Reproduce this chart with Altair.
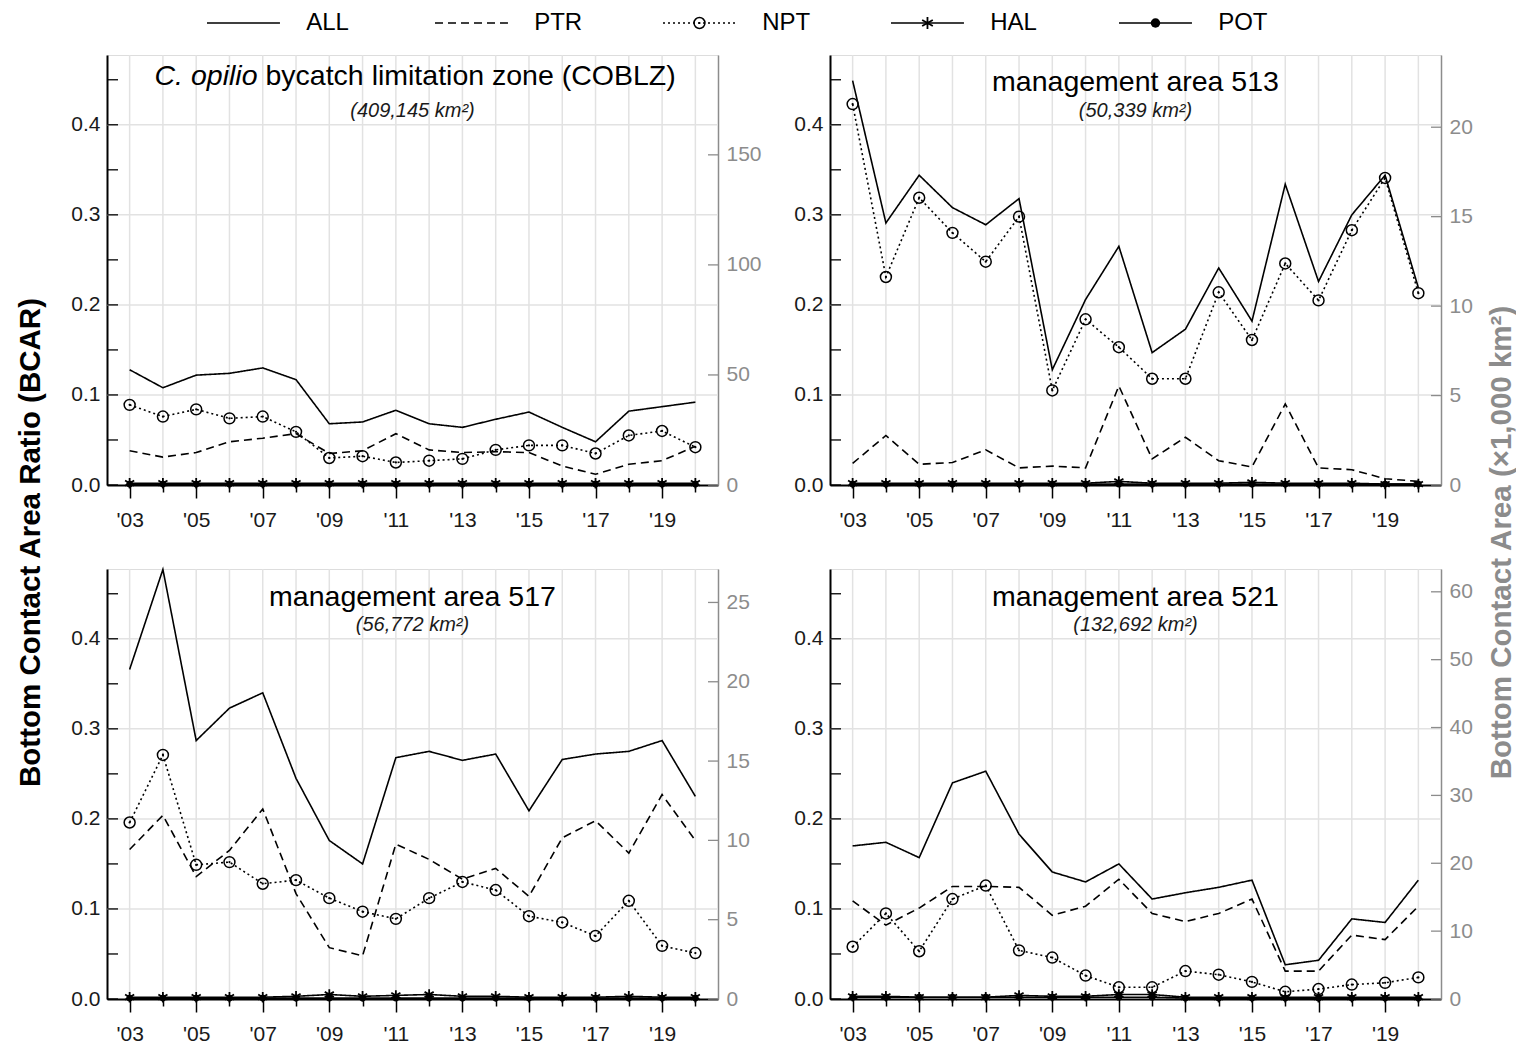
import altair as alt
import pandas as pd

YEARS = list(range(2003, 2021))
SERIES = ["ALL", "PTR", "NPT", "HAL", "POT"]

# ---- C. opilio bycatch limitation zone (COBLZ) ----
coblz_all = [0.128, 0.108, 0.122, 0.124, 0.130, 0.117, 0.068, 0.070, 0.083, 0.068, 0.064, 0.073, 0.081, 0.064, 0.048, 0.082, 0.087, 0.092]
coblz_ptr = [0.038, 0.031, 0.036, 0.048, 0.052, 0.057, 0.035, 0.038, 0.057, 0.039, 0.036, 0.037, 0.036, 0.021, 0.012, 0.023, 0.027, 0.043]
coblz_npt = [0.089, 0.076, 0.084, 0.074, 0.076, 0.059, 0.030, 0.032, 0.025, 0.027, 0.029, 0.039, 0.044, 0.044, 0.035, 0.055, 0.060, 0.042]
coblz_hal = [0.002, 0.002, 0.002, 0.002, 0.002, 0.002, 0.002, 0.002, 0.002, 0.002, 0.002, 0.002, 0.002, 0.002, 0.002, 0.002, 0.002, 0.002]
coblz_pot = [0.001, 0.001, 0.001, 0.001, 0.001, 0.001, 0.001, 0.001, 0.001, 0.001, 0.001, 0.001, 0.001, 0.001, 0.001, 0.001, 0.001, 0.001]

# ---- management area 513 ----
m513_all = [0.449, 0.291, 0.344, 0.308, 0.289, 0.318, 0.128, 0.206, 0.265, 0.147, 0.173, 0.241, 0.182, 0.334, 0.226, 0.300, 0.344, 0.219]
m513_ptr = [0.024, 0.055, 0.023, 0.025, 0.039, 0.019, 0.021, 0.019, 0.110, 0.029, 0.053, 0.027, 0.020, 0.090, 0.019, 0.017, 0.007, 0.004]
m513_npt = [0.423, 0.231, 0.319, 0.280, 0.248, 0.298, 0.105, 0.184, 0.153, 0.118, 0.118, 0.214, 0.161, 0.246, 0.205, 0.283, 0.341, 0.213]
m513_hal = [0.002, 0.002, 0.002, 0.002, 0.002, 0.002, 0.002, 0.002, 0.004, 0.002, 0.002, 0.002, 0.003, 0.002, 0.002, 0.002, 0.001, 0.001]
m513_pot = [0.001, 0.001, 0.001, 0.001, 0.001, 0.001, 0.001, 0.001, 0.001, 0.001, 0.001, 0.001, 0.001, 0.001, 0.001, 0.001, 0.001, 0.001]

# ---- management area 517 ----
m517_all = [0.366, 0.477, 0.287, 0.323, 0.340, 0.245, 0.176, 0.150, 0.268, 0.275, 0.265, 0.272, 0.209, 0.266, 0.272, 0.275, 0.287, 0.225]
m517_ptr = [0.166, 0.204, 0.136, 0.165, 0.211, 0.117, 0.057, 0.048, 0.172, 0.155, 0.133, 0.145, 0.114, 0.179, 0.198, 0.162, 0.227, 0.176]
m517_npt = [0.196, 0.271, 0.149, 0.152, 0.128, 0.132, 0.112, 0.097, 0.089, 0.112, 0.130, 0.121, 0.092, 0.085, 0.070, 0.109, 0.059, 0.051]
m517_hal = [0.002, 0.002, 0.002, 0.002, 0.002, 0.003, 0.005, 0.003, 0.004, 0.005, 0.003, 0.003, 0.002, 0.002, 0.002, 0.003, 0.002, 0.002]
m517_pot = [0.001, 0.001, 0.001, 0.001, 0.001, 0.001, 0.001, 0.001, 0.001, 0.001, 0.001, 0.001, 0.001, 0.001, 0.001, 0.001, 0.001, 0.001]

# ---- management area 521 ----
m521_all = [0.170, 0.174, 0.157, 0.240, 0.253, 0.183, 0.141, 0.130, 0.150, 0.111, 0.118, 0.124, 0.132, 0.038, 0.043, 0.089, 0.085, 0.132]
m521_ptr = [0.109, 0.082, 0.101, 0.125, 0.125, 0.124, 0.093, 0.103, 0.133, 0.095, 0.086, 0.095, 0.111, 0.031, 0.031, 0.071, 0.066, 0.103]
m521_npt = [0.058, 0.095, 0.053, 0.111, 0.126, 0.054, 0.046, 0.026, 0.013, 0.013, 0.031, 0.027, 0.019, 0.008, 0.011, 0.016, 0.018, 0.024]
m521_hal = [0.003, 0.003, 0.002, 0.002, 0.002, 0.004, 0.003, 0.003, 0.005, 0.005, 0.002, 0.002, 0.002, 0.002, 0.002, 0.002, 0.002, 0.002]
m521_pot = [0.002, 0.002, 0.002, 0.002, 0.002, 0.002, 0.002, 0.002, 0.002, 0.002, 0.001, 0.001, 0.001, 0.001, 0.001, 0.001, 0.001, 0.001]

# panel areas (km^2) and right-axis tick labels (x1,000 km^2)
AREAS = [409145, 50339, 56772, 132692]
RTICKS = [[0, 50, 100, 150], [0, 5, 10, 15, 20], [0, 5, 10, 15, 20, 25], [0, 10, 20, 30, 40, 50, 60]]
LEFT_LABELS = [0.0, 0.1, 0.2, 0.3, 0.4]
LEFT_TICKS = [0.0, 0.05, 0.1, 0.15, 0.2, 0.25, 0.3, 0.35, 0.4, 0.45]

FONT = "Liberation Sans"
W, H = 611, 430
XDOM = [2002.32, 2020.68]
YMAX = 0.4775
GRAY = "#8c8c8c"
GRID = "#e2e2e2"
DASHES = [[1, 0], [8, 5], [2, 3], [1, 0], [1, 0]]
ASTERISK = "M0,-1L0,1M-0.87,-0.5L0.87,0.5M-0.87,0.5L0.87,-0.5"
TITLE_FS = 28.5

dash_scale = alt.Scale(domain=SERIES, range=DASHES)


def legend_layers():
    leg_df = pd.DataFrame({"series": SERIES, "i": [0, 1, 2, 3, 4]})
    # 228 px per legend entry, first entry starting 100 px right of the panel edge
    leg_scale = alt.Scale(domain=[-100 / 228, (W - 100) / 228], nice=False, zero=False)
    ly = alt.value(-32)
    b = alt.Chart(leg_df).transform_calculate(
        x1="datum.i + 0.32", xm="datum.i + 0.16", xt="datum.i + 0.435")
    rule = b.mark_rule(color="black", strokeWidth=1.6).encode(
        x=alt.X("i:Q", scale=leg_scale, axis=None), x2="x1:Q", y=ly,
        strokeDash=alt.StrokeDash("series:N", scale=dash_scale, legend=None))
    npt = b.transform_filter("datum.series == 'NPT'").mark_point(
        shape="circle", filled=False, size=120, strokeWidth=1.5, color="black", opacity=1).encode(
        x=alt.X("xm:Q", scale=leg_scale, axis=None), y=ly)
    npt_dot = b.transform_filter("datum.series == 'NPT'").mark_point(
        shape="circle", filled=True, size=5, color="black", opacity=1).encode(
        x=alt.X("xm:Q", scale=leg_scale, axis=None), y=ly)
    hal = b.transform_filter("datum.series == 'HAL'").mark_point(
        shape=ASTERISK, filled=False, size=150, strokeWidth=1.8, color="black", opacity=1).encode(
        x=alt.X("xm:Q", scale=leg_scale, axis=None), y=ly)
    pot = b.transform_filter("datum.series == 'POT'").mark_point(
        shape="circle", filled=True, size=90, color="black", opacity=1).encode(
        x=alt.X("xm:Q", scale=leg_scale, axis=None), y=ly)
    txt = b.mark_text(font=FONT, fontSize=24, align="left", baseline="middle",
                      color="black").encode(
        x=alt.X("xt:Q", scale=leg_scale, axis=None), y=ly, text="series:N")
    return alt.layer(rule, npt, npt_dot, hal, pot, txt)


def make_panel(vals, area, rticks, title_parts, subtitle, title_y,
               left_title=None, right_title=None, with_legend=False):
    rows = []
    for s in SERIES:
        for yr, v in zip(YEARS, vals[s]):
            rows.append({"year": yr, "series": s, "value": v})
    df = pd.DataFrame(rows)

    xaxis = alt.Axis(
        values=YEARS,
        labelExpr="datum.value % 2 == 1 ? \"'\" + substring(toString(datum.value), 2) : ''",
        tickSize={"condition": {"test": "datum.value % 2 == 1", "value": 13}, "value": 7},
        grid=False, domainColor="black", domainWidth=2, tickColor="black", tickWidth=1.5,
        labelFontSize=21, labelColor="#1a1a1a", labelPadding=11, labelFont=FONT,
        labelOverlap=False, labelFlush=False, title=None,
    )
    xenc = alt.X("year:Q", scale=alt.Scale(domain=XDOM, nice=False, zero=False), axis=xaxis)

    yaxis_kw = dict(
        orient="left", values=LEFT_LABELS, format=".1f", ticks=False, grid=False,
        domainColor="black", domainWidth=2, labelFontSize=21, labelColor="#1a1a1a",
        labelPadding=7, labelFont=FONT,
    )
    if left_title:
        yaxis_kw.update(title=left_title, titleX=-77, titleY=487, titleAngle=270,
                        titleAlign="center", titleBaseline="middle", titleFontSize=29.5,
                        titleFontWeight="bold", titleColor="black", titleFont=FONT)
    else:
        yaxis_kw.update(title=None)
    yenc = alt.Y("value:Q", scale=alt.Scale(domain=[0, YMAX], nice=False, zero=True),
                 axis=alt.Axis(**yaxis_kw))

    vgrid = alt.Chart(pd.DataFrame({"year": YEARS})).mark_rule(
        color=GRID, strokeWidth=1.5).encode(x=xenc)
    hgrid = alt.Chart(pd.DataFrame({"value": LEFT_LABELS[1:]})).mark_rule(
        color=GRID, strokeWidth=1.5).encode(y=yenc)
    lticks = alt.Chart(pd.DataFrame({"value": LEFT_TICKS})).mark_rule(
        color="black", strokeWidth=1.3).encode(y=yenc, x=alt.value(0), x2=alt.value(11))

    base = alt.Chart(df)
    lines = base.mark_line(color="black", strokeWidth=1.6).encode(
        x=xenc, y=yenc,
        strokeDash=alt.StrokeDash("series:N", scale=dash_scale, legend=None),
        detail="series:N",
    )
    npt = base.transform_filter("datum.series == 'NPT'").mark_point(
        shape="circle", filled=False, size=120, strokeWidth=1.5, color="black", opacity=1
    ).encode(x=xenc, y=yenc)
    npt_dot = base.transform_filter("datum.series == 'NPT'").mark_point(
        shape="circle", filled=True, size=5, color="black", opacity=1
    ).encode(x=xenc, y=yenc)
    hal = base.transform_filter("datum.series == 'HAL'").mark_point(
        shape=ASTERISK, filled=False, size=110, strokeWidth=1.8, color="black", opacity=1
    ).encode(x=xenc, y=yenc)
    pot = base.transform_filter("datum.series == 'POT'").mark_point(
        shape="circle", filled=True, size=45, color="black", opacity=1
    ).encode(x=xenc, y=yenc)

    texts = []
    if len(title_parts) == 2:
        texts.append(alt.Chart(pd.DataFrame({"t": [title_parts[0]]})).mark_text(
            font=FONT, fontSize=TITLE_FS, fontStyle="italic", align="right", baseline="middle",
            color="black").encode(text="t:N", x=alt.value(W / 2 - 155), y=alt.value(title_y)))
        texts.append(alt.Chart(pd.DataFrame({"t": [title_parts[1]]})).mark_text(
            font=FONT, fontSize=TITLE_FS, align="left", baseline="middle",
            color="black").encode(text="t:N", x=alt.value(W / 2 - 147), y=alt.value(title_y)))
    else:
        texts.append(alt.Chart(pd.DataFrame({"t": [title_parts[0]]})).mark_text(
            font=FONT, fontSize=TITLE_FS, align="center", baseline="middle",
            color="black").encode(text="t:N", x=alt.value(W / 2), y=alt.value(title_y)))
    texts.append(alt.Chart(pd.DataFrame({"t": [subtitle]})).mark_text(
        font=FONT, fontSize=20, fontStyle="italic", align="center", baseline="middle",
        color="#1a1a1a").encode(text="t:N", x=alt.value(W / 2), y=alt.value(56)))

    inner = alt.layer(vgrid, hgrid, lines, npt, npt_dot, hal, pot, lticks, *texts)

    raxis_kw = dict(orient="right", values=rticks, format="d", ticks=False, grid=False,
                    domainColor=GRAY, domainWidth=1.5, labelColor=GRAY, labelFontSize=21,
                    labelPadding=8, labelFont=FONT)
    if right_title:
        raxis_kw.update(title=right_title, titleX=60, titleY=487, titleAngle=270,
                        titleAlign="center", titleBaseline="middle", titleFontSize=29.5,
                        titleFontWeight="bold", titleColor=GRAY, titleFont=FONT)
    else:
        raxis_kw.update(title=None)
    renc = alt.Y("bca:Q", scale=alt.Scale(domain=[0, YMAX * area / 1000], nice=False, zero=True),
                 axis=alt.Axis(**raxis_kw))
    rticks_layer = alt.Chart(pd.DataFrame({"bca": rticks})).mark_rule(
        color=GRAY, strokeWidth=1.3).encode(y=renc, x=alt.value(W - 10), x2=alt.value(W))

    if with_legend:
        ch = alt.layer(inner, rticks_layer, legend_layers()).resolve_scale(
            y="independent", x="independent")
    else:
        ch = alt.layer(inner, rticks_layer).resolve_scale(y="independent")
    return ch.properties(width=W, height=H)


p1 = make_panel({"ALL": coblz_all, "PTR": coblz_ptr, "NPT": coblz_npt, "HAL": coblz_hal, "POT": coblz_pot},
                AREAS[0], RTICKS[0], ["C. opilio", "bycatch limitation zone  (COBLZ)"],
                "(409,145  km²)", 21, left_title="Bottom  Contact  Area  Ratio  (BCAR)",
                with_legend=True)
p2 = make_panel({"ALL": m513_all, "PTR": m513_ptr, "NPT": m513_npt, "HAL": m513_hal, "POT": m513_pot},
                AREAS[1], RTICKS[1], ["management area 513"], "(50,339  km²)", 27,
                right_title="Bottom  Contact  Area  (×1,000 km²)")
p3 = make_panel({"ALL": m517_all, "PTR": m517_ptr, "NPT": m517_npt, "HAL": m517_hal, "POT": m517_pot},
                AREAS[2], RTICKS[2], ["management area 517"], "(56,772  km²)", 28)
p4 = make_panel({"ALL": m521_all, "PTR": m521_ptr, "NPT": m521_npt, "HAL": m521_hal, "POT": m521_pot},
                AREAS[3], RTICKS[3], ["management area 521"], "(132,692  km²)", 28)

chart = alt.concat(p1, p2, p3, p4, columns=2, spacing={"row": 84, "column": 112},
                   bounds="flush").properties(
    padding={"left": 6, "top": 2, "right": 0, "bottom": 0}
).configure_view(stroke="#9a9a9a", strokeWidth=1.5).configure(font=FONT)

chart.save("out.html", embed_options={"renderer": "svg", "actions": False})
